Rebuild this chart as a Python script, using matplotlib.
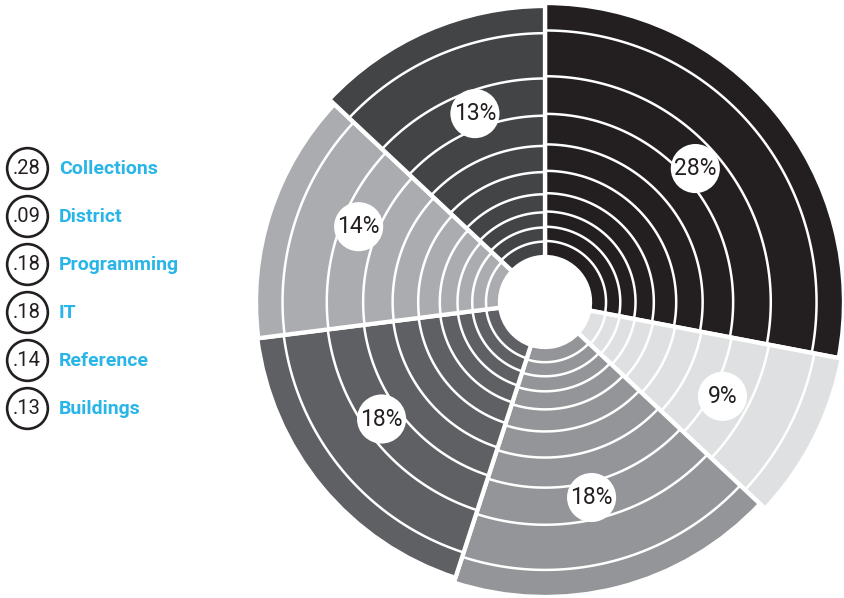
import numpy as np
import matplotlib.pyplot as plt


# data
categories = ['Collections', 'District', 'Programming', 'IT', 'Reference', 'Buildings']
shares = [28, 9, 18, 18, 14, 13]
outer = [299, 302, 295, 290, 289, 296]   # outer radius of every wedge (px)
colors = ['#231f20', '#dfe0e1', '#939598', '#5f6063', '#abacaf', '#434446']

# white rings (px, for a wedge of radius 294)
hole = 45
rings = [60, 74, 89, 107, 129, 155, 185, 222, 267]
ring_ref = 294

# small angular nudges of the % dots (degrees), as in the original
nudge = [-2, 1, 1, 4, 4, 3]

plt.rcParams['font.family'] = ['Roboto', 'DejaVu Sans']

W, H = 844, 598
fig = plt.figure(figsize=(W / 100, H / 100), dpi=100)

# polar axes, centre at (545, 302) of the image
cx, cy, rmax = 545, H - 302, 310
ax = fig.add_axes([(cx - rmax) / W, (cy - rmax) / H, 2 * rmax / W, 2 * rmax / H],
                  projection='polar')
ax.set_theta_zero_location('N')
ax.set_theta_direction(-1)
ax.set_ylim(0, rmax)
ax.set_axis_off()

widths = np.radians(np.array(shares) * 3.6)
starts = np.concatenate([[0], np.cumsum(widths)[:-1]])
mids = starts + widths / 2

ax.bar(mids, np.array(outer) - hole, width=widths, bottom=hole,
       color=colors, edgecolor='white', linewidth=3.1)

for s, w, R in zip(starts, widths, outer):
    t = np.linspace(s, s + w, 120)
    for r in rings:
        ax.plot(t, np.full_like(t, r * R / ring_ref), color='white', lw=1.8,
                solid_capstyle='butt')

# percent labels in white dots
lab_t = mids + np.radians(nudge)
ax.scatter(lab_t, np.full(len(mids), 201), s=1250, color='white',
           edgecolors='none', zorder=5)
for m, v in zip(lab_t, shares):
    ax.text(m, 201, f'{v}%', ha='center', va='center', fontsize=16.5,
            color='#231f20', zorder=6)

# legend on the left
lg = fig.add_axes([0, 0, 1, 1])
lg.set_xlim(0, W)
lg.set_ylim(H, 0)
lg.set_axis_off()
ys = 168 + 48 * np.arange(len(categories))
lg.scatter(np.full(len(ys), 27), ys, s=860, facecolors='white',
           edgecolors='#231f20', linewidths=1.9)
for y, name, v in zip(ys, categories, shares):
    lg.text(27, y + 1, f'.{v:02d}', ha='center', va='center', fontsize=14.5,
            color='#231f20')
    lg.text(59, y + 1, name, ha='left', va='center', fontsize=14,
            fontweight='bold', color='#29b5e8')

fig.savefig('out.png', dpi=100)
